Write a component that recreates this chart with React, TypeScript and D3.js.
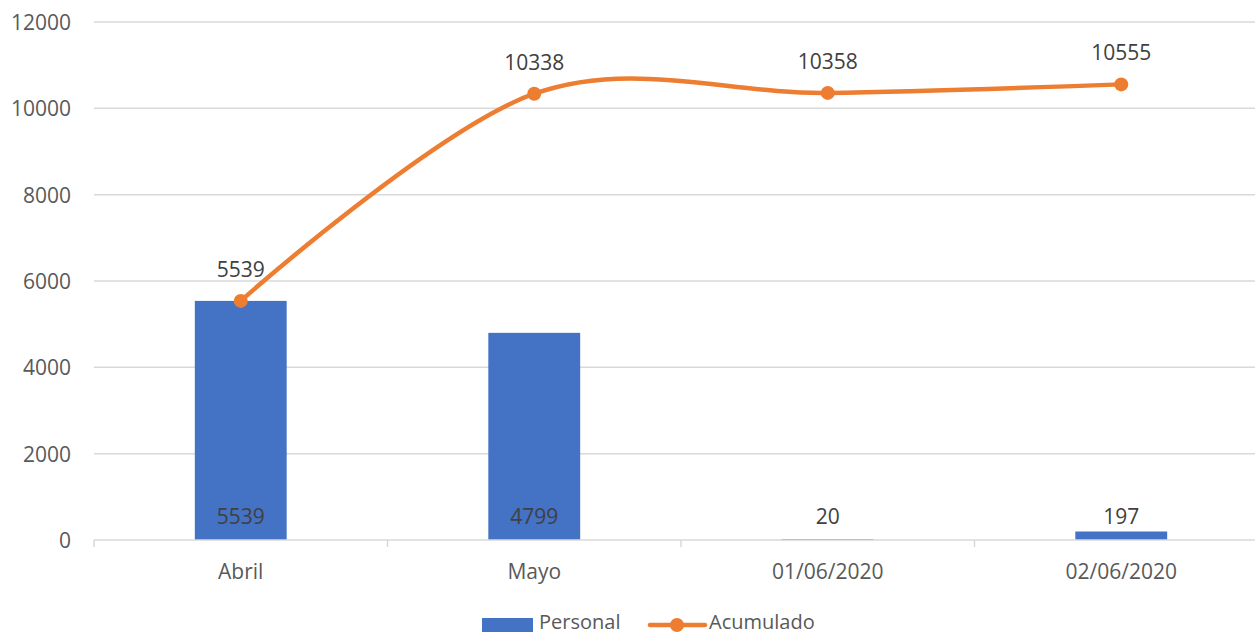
import React from "react";
import * as d3 from "d3";

const categories = ["Abril", "Mayo", "01/06/2020", "02/06/2020"];
const personal = [5539, 4799, 20, 197];
const acumulado = [5539, 10338, 10358, 10555];
const yTicks = [0, 2000, 4000, 6000, 8000, 10000, 12000];

const W = 1255;
const H = 635;
const FONT = "'Open Sans', 'Noto Sans', sans-serif";

export default function App() {
  const x = d3.scaleBand<string>().domain(categories).range([94, 1268]).paddingInner(0).paddingOuter(0);
  const y = d3.scaleLinear().domain([0, 12000]).range([540, 22]);
  const bw = x.bandwidth();
  const barW = bw * 0.313;
  const cx = (c: string) => (x(c) as number) + bw / 2;
  const pts: [number, number][] = categories.map((c, i) => [cx(c), y(acumulado[i])]);
  const line = d3.line().curve(d3.curveCatmullRom.alpha(0))(pts) as string;
  const tickXs = categories.map((c) => x(c) as number);

  return (
    <svg width={W} height={H} style={{ position: "absolute", left: 0, top: 0, background: "#fff" }} fontFamily={FONT}>
      {yTicks.map((t) =>
        t === 0 ? null : (
          <line key={t} x1={94} x2={W} y1={y(t)} y2={y(t)} stroke="#D9D9D9" strokeWidth={1.5} />
        )
      )}
      {yTicks.map((t) => (
        <text key={"l" + t} x={71} y={y(t)} textAnchor="end" dominantBaseline="central" fontSize={21} fill="#595959">
          {t}
        </text>
      ))}
      {categories.map((c, i) => (
        <rect key={c} x={cx(c) - barW / 2} y={y(personal[i])} width={barW} height={y(0) - y(personal[i])} fill="#4472C4" />
      ))}
      <line x1={94} x2={W} y1={y(0)} y2={y(0)} stroke="#D9D9D9" strokeWidth={1.5} />
      {tickXs.map((tx, i) => (
        <line key={"t" + i} x1={tx} x2={tx} y1={y(0)} y2={y(0) + 7} stroke="#D9D9D9" strokeWidth={1.5} />
      ))}
      {categories.map((c) => (
        <text key={"x" + c} x={cx(c)} y={571} textAnchor="middle" dominantBaseline="central" fontSize={21} fill="#595959">
          {c}
        </text>
      ))}
      {categories.map((c, i) => (
        <text key={"b" + c} x={cx(c)} y={y(0) - 24} textAnchor="middle" dominantBaseline="central" fontSize={21} fill="#404040">
          {personal[i]}
        </text>
      ))}
      <path d={line} fill="none" stroke="#ED7D31" strokeWidth={4.5} strokeLinecap="round" />
      {pts.map((p, i) => (
        <circle key={"m" + i} cx={p[0]} cy={p[1]} r={7} fill="#ED7D31" />
      ))}
      {pts.map((p, i) => (
        <text key={"a" + i} x={p[0]} y={p[1] - 32} textAnchor="middle" dominantBaseline="central" fontSize={21} fill="#404040">
          {acumulado[i]}
        </text>
      ))}
      <rect x={482} y={618} width={51} height={14} fill="#4472C4" />
      <text x={539} y={621} dominantBaseline="central" fontSize={20} fill="#595959">Personal</text>
      <line x1={650} x2={705} y1={625} y2={625} stroke="#ED7D31" strokeWidth={4.5} strokeLinecap="round" />
      <circle cx={677} cy={625} r={7} fill="#ED7D31" />
      <text x={709} y={621} dominantBaseline="central" fontSize={20} fill="#595959">Acumulado</text>
    </svg>
  );
}
